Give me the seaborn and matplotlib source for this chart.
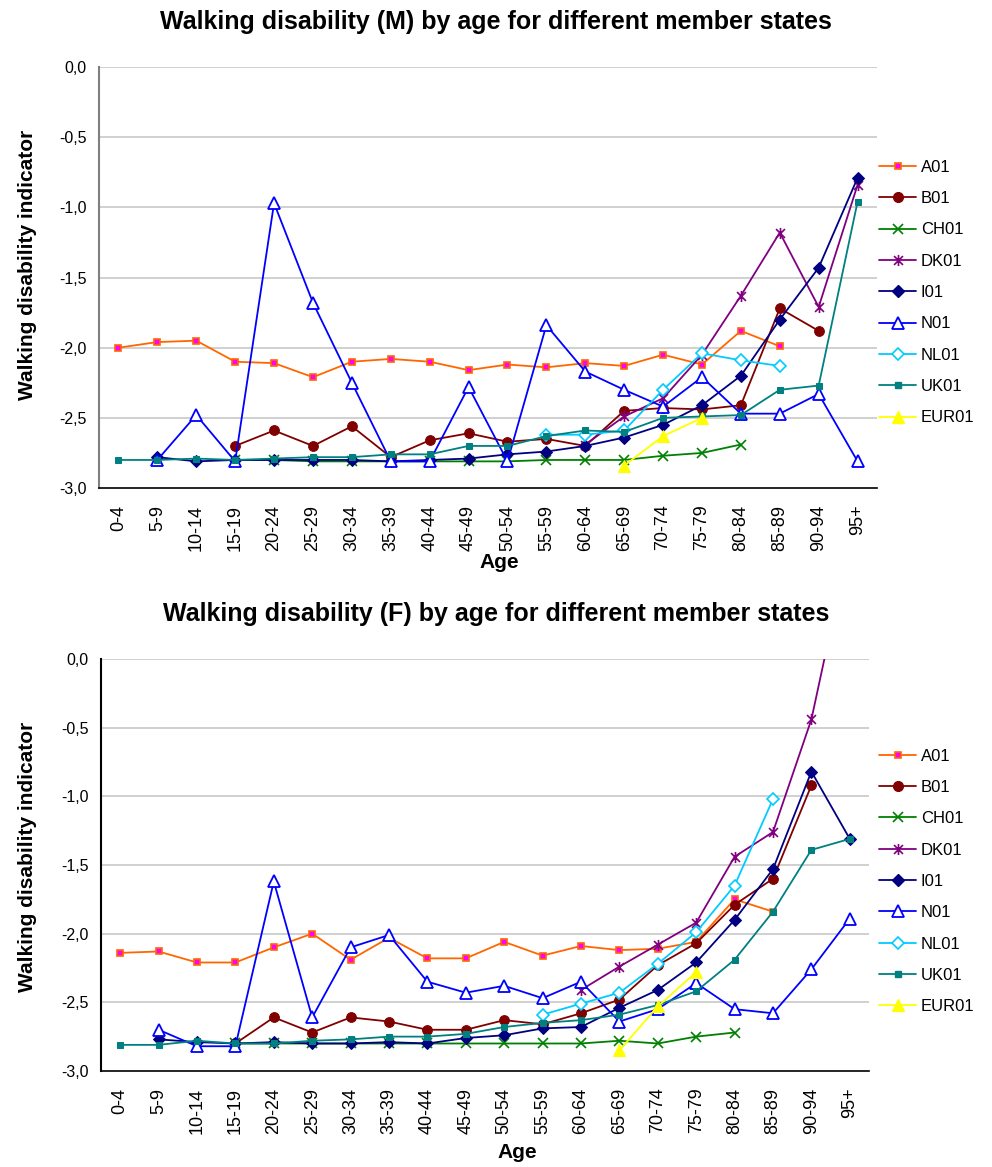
import numpy as np
import pandas as pd
import matplotlib
matplotlib.use("Agg")
import matplotlib.pyplot as plt
from matplotlib.path import Path
from matplotlib.lines import Line2D
import seaborn as sns

sns.set_style("white")
plt.rcParams['font.family'] = ['Liberation Sans', 'DejaVu Sans']
plt.rcParams['text.color'] = 'black'
plt.rcParams['xtick.color'] = 'black'
plt.rcParams['ytick.color'] = 'black'

nan = np.nan
ages = ["0-4", "5-9", "10-14", "15-19", "20-24", "25-29", "30-34", "35-39", "40-44",
        "45-49", "50-54", "55-59", "60-64", "65-69", "70-74", "75-79", "80-84",
        "85-89", "90-94", "95+"]
series_names = ["A01", "B01", "CH01", "DK01", "I01", "N01", "NL01", "UK01", "EUR01"]

# Males
m_A01 = [-2.00, -1.96, -1.95, -2.10, -2.11, -2.21, -2.10, -2.08, -2.10, -2.16, -2.12, -2.14, -2.11, -2.13, -2.05, -2.12, -1.88, -1.99, nan, nan]
m_B01 = [nan, nan, nan, -2.70, -2.59, -2.70, -2.56, -2.78, -2.66, -2.61, -2.67, -2.65, -2.70, -2.45, -2.43, -2.44, -2.41, -1.72, -1.88, nan]
m_CH01 = [nan, nan, nan, -2.80, -2.80, -2.81, -2.81, -2.81, -2.81, -2.81, -2.81, -2.80, -2.80, -2.80, -2.77, -2.75, -2.69, nan, nan, nan]
m_DK01 = [nan] * 12 + [-2.69, -2.49, -2.36, -2.05, -1.63, -1.18, -1.71, -0.84]
m_I01 = [nan, -2.78, -2.81, -2.80, -2.80, -2.80, -2.80, -2.81, -2.80, -2.79, -2.76, -2.74, -2.70, -2.64, -2.55, -2.41, -2.20, -1.80, -1.43, -0.79]
m_N01 = [nan, -2.80, -2.48, -2.81, -0.97, -1.68, -2.25, -2.81, -2.81, -2.28, -2.81, -1.84, -2.17, -2.30, -2.42, -2.21, -2.47, -2.47, -2.33, -2.81]
m_NL01 = [nan] * 11 + [-2.62, -2.62, -2.59, -2.30, -2.04, -2.09, -2.13, nan, nan]
m_UK01 = [-2.80, -2.80, -2.79, -2.80, -2.79, -2.78, -2.78, -2.76, -2.76, -2.70, -2.70, -2.63, -2.59, -2.60, -2.50, -2.49, -2.48, -2.30, -2.27, -0.96]
m_EUR01 = [nan] * 13 + [-2.84, -2.63, -2.50, nan, nan, nan, nan]

# Females
f_A01 = [-2.14, -2.13, -2.21, -2.21, -2.10, -2.00, -2.19, -2.03, -2.18, -2.18, -2.06, -2.16, -2.09, -2.12, -2.11, -2.06, -1.75, -1.84, nan, nan]
f_B01 = [nan, nan, nan, -2.80, -2.61, -2.72, -2.61, -2.64, -2.70, -2.70, -2.63, -2.66, -2.58, -2.48, -2.23, -2.07, -1.79, -1.60, -0.92, nan]
f_CH01 = [nan, nan, nan, -2.80, -2.80, -2.80, -2.80, -2.80, -2.80, -2.80, -2.80, -2.80, -2.80, -2.78, -2.80, -2.75, -2.72, nan, nan, nan]
f_DK01 = [nan] * 12 + [-2.41, -2.24, -2.08, -1.92, -1.44, -1.26, -0.44, 0.86]
f_I01 = [nan, -2.77, -2.79, -2.80, -2.79, -2.80, -2.80, -2.79, -2.80, -2.76, -2.74, -2.69, -2.68, -2.54, -2.41, -2.21, -1.90, -1.53, -0.82, -1.31]
f_N01 = [nan, -2.70, -2.82, -2.82, -1.62, -2.61, -2.10, -2.01, -2.35, -2.43, -2.38, -2.47, -2.35, -2.64, -2.55, -2.36, -2.55, -2.58, -2.26, -1.89]
f_NL01 = [nan] * 11 + [-2.59, -2.51, -2.43, -2.22, -1.99, -1.65, -1.02, nan, nan]
f_UK01 = [-2.81, -2.81, -2.78, -2.80, -2.80, -2.78, -2.77, -2.75, -2.75, -2.73, -2.68, -2.65, -2.63, -2.59, -2.52, -2.42, -2.19, -1.84, -1.39, -1.31]
f_EUR01 = [nan] * 13 + [-2.85, -2.53, -2.28, nan, nan, nan, nan]

male = [m_A01, m_B01, m_CH01, m_DK01, m_I01, m_N01, m_NL01, m_UK01, m_EUR01]
female = [f_A01, f_B01, f_CH01, f_DK01, f_I01, f_N01, f_NL01, f_UK01, f_EUR01]

yticks = [0.0, -0.5, -1.0, -1.5, -2.0, -2.5, -3.0]

asterisk = Path([(-1, -1), (1, 1), (-1, 1), (1, -1), (0, -1.25), (0, 1.25)],
                [Path.MOVETO, Path.LINETO, Path.MOVETO, Path.LINETO, Path.MOVETO, Path.LINETO])

styles = {
    "A01": dict(color="#FF6600", marker="s", markersize=4.5, markerfacecolor="#FF00FF", markeredgecolor="#FF6600", markeredgewidth=1.2),
    "B01": dict(color="#800000", marker="o", markersize=7, markerfacecolor="#800000", markeredgecolor="#800000"),
    "CH01": dict(color="#008000", marker="x", markersize=7, markeredgewidth=1.2, markeredgecolor="#008000"),
    "DK01": dict(color="#800080", marker=asterisk, markersize=8, markerfacecolor="none", markeredgecolor="#800080", markeredgewidth=1.2),
    "I01": dict(color="#000080", marker="D", markersize=6, markerfacecolor="#000080", markeredgecolor="#000080"),
    "N01": dict(color="#0000FF", marker="^", markersize=8, markerfacecolor="white", markeredgecolor="#0000FF", markeredgewidth=1.3),
    "NL01": dict(color="#00CCFF", marker="D", markersize=6, markerfacecolor="white", markeredgecolor="#00CCFF", markeredgewidth=1.2),
    "UK01": dict(color="#008080", marker="s", markersize=4.5, markerfacecolor="#008080", markeredgecolor="#008080"),
    "EUR01": dict(color="#FFFF00", marker="^", markersize=8, markerfacecolor="#FFFF00", markeredgecolor="#FFFF00"),
}

fig = plt.figure(figsize=(9.92, 11.67), dpi=100)
ax1 = fig.add_axes([0.0998, 0.5818, 0.7843, 0.3608])
ax2 = fig.add_axes([0.1018, 0.0823, 0.7742, 0.3530])

def fmt(v):
    return f"{v:.1f}".replace(".", ",")

def draw(ax, data, left_spine_color):
    handles = []
    xs = np.arange(len(ages))
    for name, vals in zip(series_names, data):
        st = dict(styles[name])
        df = pd.DataFrame({"x": xs, "y": vals}).dropna()
        sns.lineplot(data=df, x="x", y="y", ax=ax, errorbar=None, legend=False,
                     linewidth=1.3, **st)
        handles.append(Line2D([0], [0], linewidth=1.3, **st))
    ax.set_xlim(-0.5, len(ages) - 0.5)
    ax.set_ylim(-3.0, 0.0)
    ax.set_yticks(yticks)
    ax.set_yticklabels([fmt(v) for v in yticks], fontsize=11.5)
    ax.set_xticks(xs)
    ax.set_xticklabels(ages, rotation=90, fontsize=13, va="top", ha="center")
    ax.set_xticks(np.arange(-0.5, len(ages)), minor=True)
    ax.tick_params(axis="x", which="major", length=0, pad=12)
    ax.tick_params(axis="x", which="minor", length=6, width=1, color="black", direction="out")
    ax.tick_params(axis="y", which="major", length=5, width=1, color="black", direction="out", pad=4)
    ax.grid(False)
    for v in yticks[:-1]:
        ax.axhline(v, color="#C8C8C8", linewidth=1.2, zorder=0)
    for s in ["top", "right"]:
        ax.spines[s].set_visible(False)
    ax.spines["left"].set_color(left_spine_color)
    ax.spines["left"].set_linewidth(1.5)
    ax.spines["bottom"].set_color("black")
    ax.spines["bottom"].set_linewidth(1.2)
    ax.set_xlabel("")
    ax.set_ylabel("")
    return handles

h1 = draw(ax1, male, "#808080")
h2 = draw(ax2, female, "black")

leg_kw = dict(frameon=False, fontsize=12, handlelength=2.2, handletextpad=0.3,
              labelspacing=0.98, loc="center left", borderpad=0.0)
fig.legend(h1, series_names, bbox_to_anchor=(871 / 992, 1 - 292.5 / 1167), **leg_kw)
fig.legend(h2, series_names, bbox_to_anchor=(871 / 992, 1 - 881.5 / 1167), **leg_kw)

fig.text(0.5, 1 - 22 / 1167, "Walking disability (M) by age for different member states",
         ha="center", va="center", fontsize=18, fontweight="bold")
fig.text(0.5, 1 - 614 / 1167, "Walking disability (F) by age for different member states",
         ha="center", va="center", fontsize=18, fontweight="bold")
fig.text(28 / 992, 1 - 265 / 1167, "Walking disability indicator", rotation=90,
         ha="center", va="center", fontsize=15, fontweight="bold")
fig.text(28 / 992, 1 - 857 / 1167, "Walking disability indicator", rotation=90,
         ha="center", va="center", fontsize=15, fontweight="bold")
fig.text(499 / 992, 1 - 562 / 1167, "Age", ha="center", va="center", fontsize=15, fontweight="bold")
fig.text(517 / 992, 1 - 1152 / 1167, "Age", ha="center", va="center", fontsize=15, fontweight="bold")

fig.savefig("out.png", dpi=100)
